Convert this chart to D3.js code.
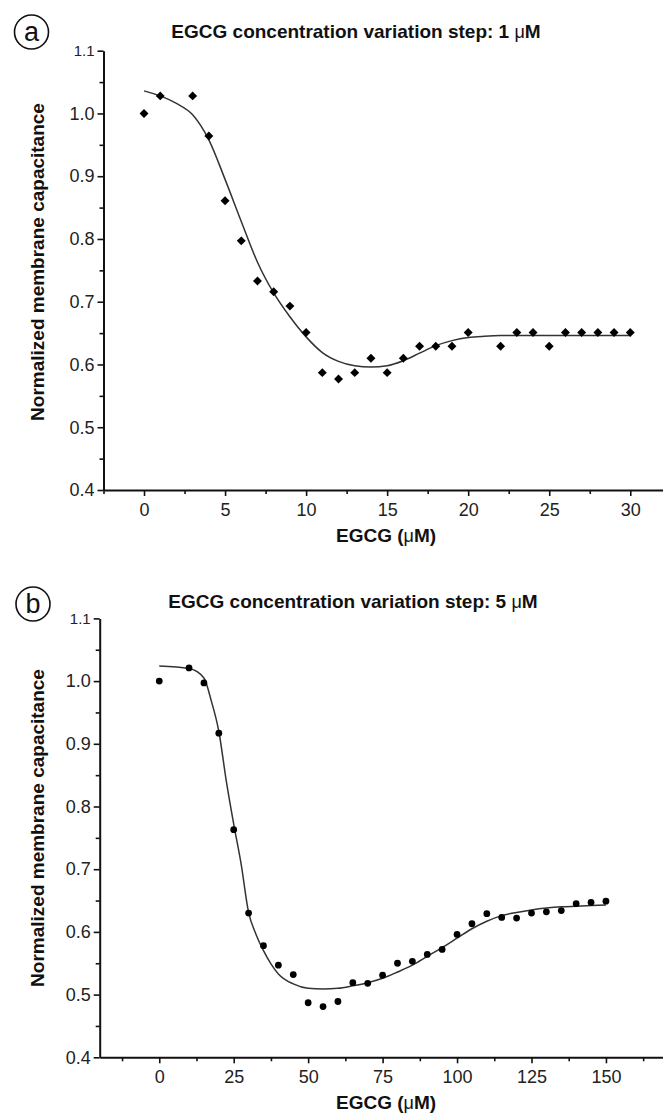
<!DOCTYPE html>
<html>
<head>
<meta charset="utf-8">
<script src="https://cdn.jsdelivr.net/npm/d3@7"></script>
<style>
  body { margin: 0; background: #fff; }
  svg { display: block; font-family: Arial, "Liberation Sans", sans-serif; }
  .axis path, .axis line { stroke: #111; }
  .axis path { stroke-width: 2; }
  .axis line { stroke-width: 1.6; }
  .axis text { font-size: 18px; fill: #222; font-family: Arial, "Liberation Sans", sans-serif; }
  .panel__title { font-size: 19px; font-weight: bold; fill: #111; }
  .axis__title { font-size: 19px; font-weight: bold; fill: #111; }
  .fit { fill: none; stroke: #333; stroke-width: 1.5; }
</style>
</head>
<body>
<div class="js-chart"></div>
<script>
/**
 * Data
 */
// Panel a: 1 uM steps
var concA = [0, 1, 3, 4, 5, 6, 7, 8, 9, 10, 11, 12, 13, 14, 15, 16, 17, 18, 19, 20, 22, 23, 24, 25, 26, 27, 28, 29, 30];
var capA = [1.000, 1.028, 1.028, 0.964, 0.861, 0.797, 0.733, 0.716, 0.693, 0.651, 0.587, 0.577, 0.587, 0.610, 0.587,
  0.610, 0.629, 0.629, 0.629, 0.651, 0.629, 0.651, 0.651, 0.629, 0.651, 0.651, 0.651, 0.651, 0.651];
var fitConcA = [0, 1, 2, 3, 4, 5, 6, 7, 8, 9, 10, 11, 12, 13, 14, 15, 16, 17, 18, 19, 20, 21, 22, 26, 30];
var fitCapA = [1.036, 1.028, 1.016, 0.998, 0.958, 0.895, 0.828, 0.763, 0.714, 0.676, 0.644, 0.619, 0.605, 0.598, 0.596,
  0.598, 0.606, 0.618, 0.630, 0.638, 0.643, 0.645, 0.646, 0.646, 0.646];

// Panel b: 5 uM steps
var concB = [0, 10, 15, 20, 25, 30, 35, 40, 45, 50, 55, 60, 65, 70, 75, 80, 85, 90, 95, 100, 105, 110, 115, 120, 125, 130, 135, 140, 145, 150];
var capB = [1.000, 1.021, 0.997, 0.917, 0.763, 0.630, 0.578, 0.547, 0.532, 0.487, 0.481, 0.489, 0.519, 0.518, 0.531,
  0.550, 0.553, 0.564, 0.572, 0.596, 0.613, 0.629, 0.623, 0.622, 0.630, 0.632, 0.634, 0.645, 0.647, 0.649];
var fitConcB = [0, 10, 15, 17.5, 20, 22.5, 25, 27.5, 30, 32.5, 35, 37.5, 40, 45, 50, 55, 60, 65, 70, 75, 80, 85, 90, 95,
  100, 105, 110, 115, 120, 125, 130, 135, 140, 150];
var fitCapB = [1.024, 1.020, 1.005, 0.968, 0.920, 0.841, 0.772, 0.708, 0.631, 0.596, 0.570, 0.549, 0.533, 0.517, 0.510,
  0.509, 0.510, 0.514, 0.519, 0.526, 0.536, 0.547, 0.561, 0.575, 0.590, 0.605, 0.617, 0.626, 0.631, 0.635, 0.638, 0.640,
  0.641, 0.643];

// Tick labels
var yTicks = [0.4, 0.5, 0.6, 0.7, 0.8, 0.9, 1.0, 1.1];
var yMinorTicks = [0.45, 0.55, 0.65, 0.75, 0.85, 0.95, 1.05];
var xTicksA = [0, 5, 10, 15, 20, 25, 30];
var xMinorTicksA = [-2.5, 2.5, 7.5, 12.5, 17.5, 22.5, 27.5, 32.5];
var xTicksB = [0, 25, 50, 75, 100, 125, 150];
var xMinorTicksB = [-12.5, 12.5, 37.5, 62.5, 87.5, 112.5, 137.5, 162.5];

var titleA = 'EGCG concentration variation step: 1 ';
var titleB = 'EGCG concentration variation step: 5 ';

/**
 * Setup
 */
var width = 663;
var height = 1115;

var svg = d3.select('.js-chart').append('svg')
  .attr('width', width)
  .attr('height', height);

svg.append('rect')
  .attr('width', width)
  .attr('height', height)
  .attr('fill', '#fff');

var drawPanel = function drawPanel(opts) {
  var x = d3.scaleLinear().domain(opts.xDomain).range([opts.left, opts.right]);
  var y = d3.scaleLinear().domain([0.4, 1.1]).range([opts.bottom, opts.top]);
  var g = svg.append('g');

  // minor ticks first so the axis line sits on top
  g.append('g')
    .attr('class', 'axis')
    .attr('transform', 'translate(0,' + opts.bottom + ')')
    .call(d3.axisBottom(x).tickValues(opts.xMinor).tickSize(4).tickFormat(''))
    .select('.domain').remove();

  g.append('g')
    .attr('class', 'axis')
    .attr('transform', 'translate(' + opts.left + ',0)')
    .call(d3.axisLeft(y).tickValues(yMinorTicks).tickSize(4).tickFormat(''))
    .select('.domain').remove();

  g.append('g')
    .attr('class', 'axis')
    .attr('transform', 'translate(0,' + opts.bottom + ')')
    .call(d3.axisBottom(x).tickValues(opts.xTicks).tickSize(6).tickPadding(7).tickSizeOuter(0));

  var yAxis = g.append('g')
    .attr('class', 'axis')
    .attr('transform', 'translate(' + opts.left + ',0)')
    .call(d3.axisLeft(y).tickValues(yTicks).tickSize(6).tickPadding(3).tickSizeOuter(0)
      .tickFormat(d3.format('.1f')));

  // the top label is printed smaller in the original
  yAxis.selectAll('.tick text')
    .filter(function(d) { return d === 1.1; })
    .style('font-size', '15px');

  // fitted curve
  var line = d3.line()
    .x(function(d) { return x(d[0]); })
    .y(function(d) { return y(d[1]); })
    .curve(d3.curveMonotoneX);

  g.append('path')
    .datum(d3.zip(opts.fitConc, opts.fitCap))
    .attr('class', 'fit')
    .attr('d', line);

  // measured points
  g.selectAll('.point')
    .data(d3.zip(opts.conc, opts.cap))
    .enter().append('path')
    .attr('class', 'point')
    .attr('d', opts.symbol)
    .attr('fill', '#000')
    .attr('transform', function(d) {
      return 'translate(' + x(d[0]) + ',' + y(d[1]) + ')' + (opts.rotate ? ' rotate(45)' : '');
    });

  // panel title
  var title = g.append('text')
    .attr('class', 'panel__title')
    .attr('x', opts.titleX)
    .attr('y', opts.titleY)
    .attr('text-anchor', 'middle')
    .text(opts.title);
  title.append('tspan').style('font-weight', 'normal').style('font-size', '18px').text('μ');
  title.append('tspan').text('M');

  // axis titles
  var xt = g.append('text')
    .attr('class', 'axis__title')
    .attr('x', 386)
    .attr('y', opts.bottom + 52)
    .attr('text-anchor', 'middle')
    .text('EGCG (');
  xt.append('tspan').style('font-weight', 'normal').style('font-size', '18px').text('μ');
  xt.append('tspan').text('M)');

  g.append('text')
    .attr('class', 'axis__title')
    .attr('transform', 'translate(43.5,' + opts.yTitleY + ') rotate(-90)')
    .attr('text-anchor', 'middle')
    .text('Normalized membrane capacitance');

  // circled panel letter
  g.append('circle')
    .attr('cx', opts.letterX)
    .attr('cy', opts.letterY)
    .attr('r', 17)
    .attr('fill', 'none')
    .attr('stroke', '#111')
    .attr('stroke-width', 1.6);

  g.append('text')
    .attr('x', opts.letterX)
    .attr('y', opts.letterY + 9)
    .attr('text-anchor', 'middle')
    .style('font-size', '27px')
    .style('fill', '#111')
    .text(opts.letter);
};

/**
 * Draw both panels
 */
drawPanel({
  xDomain: [-2.5, 32.5], left: 103.5, right: 670.8,
  top: 50.7, bottom: 490,
  xTicks: xTicksA, xMinor: xMinorTicksA,
  conc: concA, cap: capA, fitConc: fitConcA, fitCap: fitCapA,
  symbol: d3.symbol().type(d3.symbolSquare).size(40)(), rotate: true,
  title: titleA, titleX: 356, titleY: 38,
  yTitleY: 262,
  letter: 'a', letterX: 31.5, letterY: 32
});

drawPanel({
  xDomain: [-20, 170], left: 99.7, right: 665.5,
  top: 618.4, bottom: 1057.3,
  xTicks: xTicksB, xMinor: xMinorTicksB,
  conc: concB, cap: capB, fitConc: fitConcB, fitCap: fitCapB,
  symbol: d3.symbol().type(d3.symbolCircle).size(36)(), rotate: false,
  title: titleB, titleX: 353, titleY: 608,
  yTitleY: 828,
  letter: 'b', letterX: 33, letterY: 604
});
</script>
</body>
</html>
